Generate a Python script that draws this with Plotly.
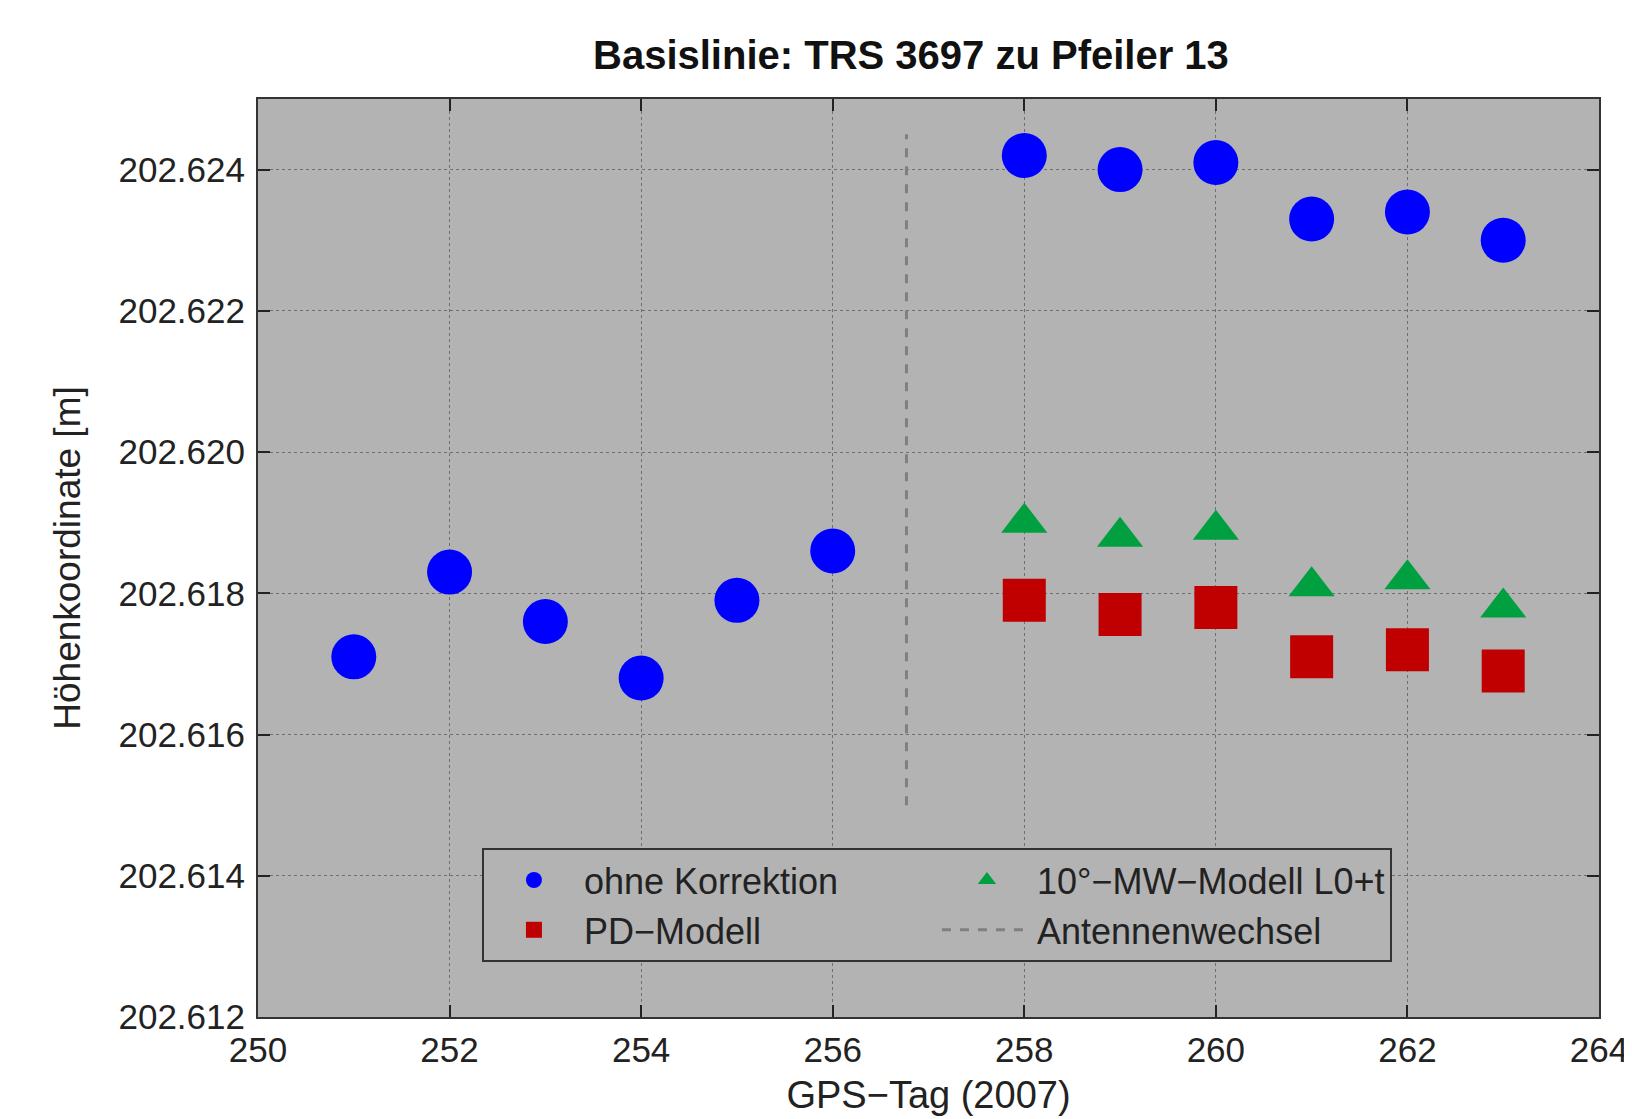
import plotly.graph_objects as go

# Data
days_all = [251, 252, 253, 254, 255, 256, 258, 259, 260, 261, 262, 263]
ohne_korrektion = [202.6171, 202.6183, 202.6176, 202.6168, 202.6179, 202.6186,
                   202.6242, 202.6240, 202.6241, 202.6233, 202.6234, 202.6230]
days_after = [258, 259, 260, 261, 262, 263]
mw_modell = [202.6190, 202.6188, 202.6189, 202.6181, 202.6182, 202.6178]
pd_modell = [202.6179, 202.6177, 202.6178, 202.6171, 202.6172, 202.6169]
antennenwechsel_x = [256.77, 256.77]
antennenwechsel_y = [202.6150, 202.6245]

x_ticks = [250, 252, 254, 256, 258, 260, 262, 264]
y_ticks = [202.612, 202.614, 202.616, 202.618, 202.620, 202.622, 202.624]

FONT = "Liberation Sans, Arial, sans-serif"

fig = go.Figure()
fig.add_trace(go.Scatter(x=days_all, y=ohne_korrektion, mode="markers", name="ohne Korrektion",
                         marker=dict(symbol="circle", size=45, color="#0000ff")))
fig.add_trace(go.Scatter(x=days_after, y=mw_modell, mode="markers", name="10°−MW−Modell L0+t",
                         marker=dict(symbol="triangle-up", size=40, color="#00a040")))
fig.add_trace(go.Scatter(x=days_after, y=pd_modell, mode="markers", name="PD−Modell",
                         marker=dict(symbol="square", size=43, color="#c00000")))
fig.add_trace(go.Scatter(x=antennenwechsel_x, y=antennenwechsel_y, mode="lines", name="Antennenwechsel",
                         line=dict(color="#808080", width=3, dash="dash")))

axis_common = dict(
    showline=True, linecolor="#333333", linewidth=2, mirror="ticks",
    ticks="inside", ticklen=12, tickwidth=2, tickcolor="#222222",
    showgrid=True, gridcolor="#6e6e6e", griddash="dot", gridwidth=1,
    zeroline=False, automargin=False,
    tickfont=dict(family=FONT, size=35, color="#222222"),
)

fig.update_layout(
    width=1624, height=1111,
    paper_bgcolor="white", plot_bgcolor="#b3b3b3",
    margin=dict(l=250, r=33, t=91, b=102, autoexpand=False),
    title=dict(text="<b>Basislinie: TRS 3697 zu Pfeiler 13</b>", x=0.556, xanchor="center",
               y=0.9575, yanchor="middle", automargin=False,
               font=dict(family=FONT, size=40, color="#111111")),
    xaxis=dict(range=[250, 264], tickvals=x_ticks, ticktext=[str(v) for v in x_ticks],
               ticklabelstandoff=1,
               title=dict(text="GPS−Tag (2007)", font=dict(family=FONT, size=38, color="#222222"), standoff=13),
               **axis_common),
    yaxis=dict(range=[202.612, 202.625], tickvals=y_ticks, tickformat=".3f",
               ticklabelstandoff=4,
               title=dict(text="Höhenkoordinate [m]", font=dict(family=FONT, size=37, color="#222222"), standoff=27),
               **axis_common),
    legend=dict(orientation="h", x=0.167, y=0.184, xanchor="left", yanchor="top",
                bgcolor="#b3b3b3", bordercolor="#333333", borderwidth=2,
                font=dict(family=FONT, size=36, color="#222222"),
                entrywidth=348, itemwidth=90),
    showlegend=True,
    hovermode=False,
)

fig.write_html("out.html")
